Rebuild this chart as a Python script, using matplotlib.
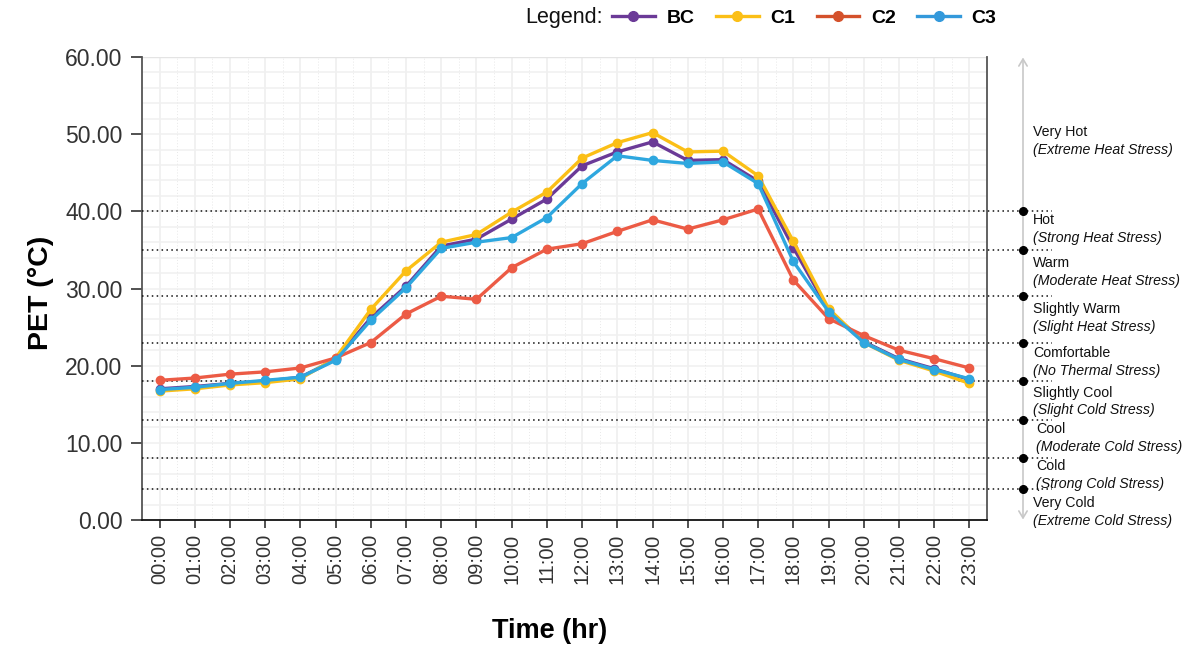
import matplotlib
matplotlib.use("Agg")
import matplotlib.pyplot as plt
from matplotlib.lines import Line2D
from matplotlib.ticker import MultipleLocator, FormatStrFormatter
import matplotlib.transforms as mtransforms

plt.rcParams['font.family'] = ['Liberation Sans', 'DejaVu Sans']

hours = ["00:00", "01:00", "02:00", "03:00", "04:00", "05:00", "06:00", "07:00",
         "08:00", "09:00", "10:00", "11:00", "12:00", "13:00", "14:00", "15:00",
         "16:00", "17:00", "18:00", "19:00", "20:00", "21:00", "22:00", "23:00"]

bc = [17.0, 17.3, 17.7, 18.0, 18.5, 20.8, 26.2, 30.3, 35.5, 36.4, 39.0, 41.6,
      45.9, 47.7, 49.0, 46.6, 46.7, 43.9, 35.3, 27.2, 23.1, 20.9, 19.6, 18.2]
c1 = [16.7, 17.0, 17.5, 17.8, 18.3, 21.0, 27.3, 32.3, 36.0, 37.0, 39.9, 42.5,
      46.9, 48.9, 50.2, 47.7, 47.8, 44.6, 36.1, 27.4, 23.0, 20.7, 19.3, 17.7]
c2 = [18.1, 18.4, 18.9, 19.2, 19.7, 21.0, 23.0, 26.7, 29.0, 28.6, 32.7, 35.1,
      35.8, 37.4, 38.9, 37.7, 38.9, 40.3, 31.1, 26.1, 23.9, 22.0, 20.9, 19.7]
c3 = [16.9, 17.2, 17.7, 18.1, 18.5, 20.7, 25.9, 30.1, 35.2, 36.0, 36.6, 39.2,
      43.6, 47.2, 46.6, 46.2, 46.4, 43.6, 33.5, 27.0, 23.0, 20.8, 19.5, 18.3]

series_names = ["BC", "C1", "C2", "C3"]
series_colors = ["#6B3A97", "#FBBF16", "#EC5B45", "#2EA7DF"]
legend_colors = ["#6B3A97", "#FBBF16", "#D4512B", "#3399DB"]

thresholds = [40, 35, 29, 23, 18, 13, 8, 4]
zone_names = ["Very Hot", "Hot", "Warm", "Slightly Warm", "Comfortable",
              "Slightly Cool", "Cool", "Cold", "Very Cold"]
zone_stress = ["(Extreme Heat Stress)", "(Strong Heat Stress)", "(Moderate Heat Stress)",
               "(Slight Heat Stress)", "(No Thermal Stress)", "(Slight Cold Stress)",
               "(Moderate Cold Stress)", "(Strong Cold Stress)", "(Extreme Cold Stress)"]
zone_label_y = [50.3, 38.9, 33.3, 27.3, 21.6, 16.5, 11.8, 7.0, 2.2]

fig = plt.figure(figsize=(11.87, 6.45), dpi=100)
ax = fig.add_axes([142/1187, 1 - 520/645, (987-142)/1187, (520-57)/645])

x = list(range(len(hours)))
for vals, col in zip([bc, c1, c2, c3], series_colors):
    ax.plot(x, vals, color=col, lw=2.4, marker='o', ms=6, zorder=4)

ax.set_xlim(-0.5, 23.5)
ax.set_ylim(0, 60)
ax.set_xticks(x)
ax.set_xticklabels(hours, rotation=90, fontsize=14.5, color='#333333')
ax.yaxis.set_major_locator(MultipleLocator(10))
ax.yaxis.set_major_formatter(FormatStrFormatter('%.2f'))
ax.tick_params(axis='y', labelsize=16.5, colors='#333333', length=8, width=1.2, pad=6)
ax.tick_params(axis='x', length=6, width=1.2, colors='#333333', pad=4)

# grids
for gy in range(2, 60, 2):
    ax.axhline(gy, color='#f1f1f1', lw=1.2, zorder=0)
for gx in x:
    ax.axvline(gx, color='#f0f0f0', lw=1.3, zorder=0)
    ax.axvline(gx + 0.5, color='#e8e8e8', lw=0.7, ls=(0, (1, 2)), zorder=0)
ax.axhline(60, color='#e4e4e4', lw=1.0, zorder=0)

ax.spines['top'].set_visible(False)
ax.spines['left'].set_color('#555555')
ax.spines['right'].set_color('#555555')
ax.spines['bottom'].set_color('#111111')
for s in ['left', 'right', 'bottom']:
    ax.spines[s].set_linewidth(1.3)

ax.set_ylabel("PET (°C)", fontsize=20.5, fontweight='bold')
ax.yaxis.set_label_coords(-0.104, 0.49)
ax.set_xlabel("Time (hr)", fontsize=19.5, fontweight='bold')
ax.xaxis.set_label_coords(0.482, -0.212)

# thresholds and right-side scale
trans = mtransforms.blended_transform_factory(ax.transAxes, ax.transData)
xdot = (1023 - 142) / 845
xend = (1052 - 142) / 845
xlab = (1033 - 142) / 845
ax.annotate('', xy=(xdot, 60.3), xytext=(xdot, -0.3), xycoords=trans, textcoords=trans,
            arrowprops=dict(arrowstyle='<->,head_length=0.5,head_width=0.3',
                            color='#c8c8c8', lw=1.2), annotation_clip=False)
for t in thresholds:
    ax.plot([0, xend], [t, t], transform=trans, color='#111111', lw=1.1,
            ls=(0, (1, 2.2)), clip_on=False, zorder=3)
    ax.plot([xdot], [t], transform=trans, marker='o', ms=5.5, color='black',
            clip_on=False, zorder=5)
for name, stress, yy in zip(zone_names, zone_stress, zone_label_y):
    dx = 0.004 if name in ("Cool", "Cold") else 0.0
    ax.text(xlab + dx, yy, name, transform=trans, fontsize=10.2, va='center',
            ha='left', color='#111111')
    ax.text(xlab + dx, yy - 2.3, stress, transform=trans, fontsize=10.2, va='center',
            ha='left', style='italic', color='#111111')

# legend
fig.text(525/1187, 1 - 18/645, "Legend:", fontsize=15.5, va='center', ha='left', color='#111111')
handles = [Line2D([0], [0], color=c, lw=2.4, marker='o', ms=7) for c in legend_colors]
leg = fig.legend(handles, series_names, loc='center left',
                 bbox_to_anchor=(612/1187, 1 - 18/645), ncol=4, frameon=False,
                 prop={'weight': 'bold', 'size': 14}, handlelength=2.2,
                 handletextpad=0.6, columnspacing=1.1, borderaxespad=0, borderpad=0)

fig.savefig("out.png", dpi=100)
